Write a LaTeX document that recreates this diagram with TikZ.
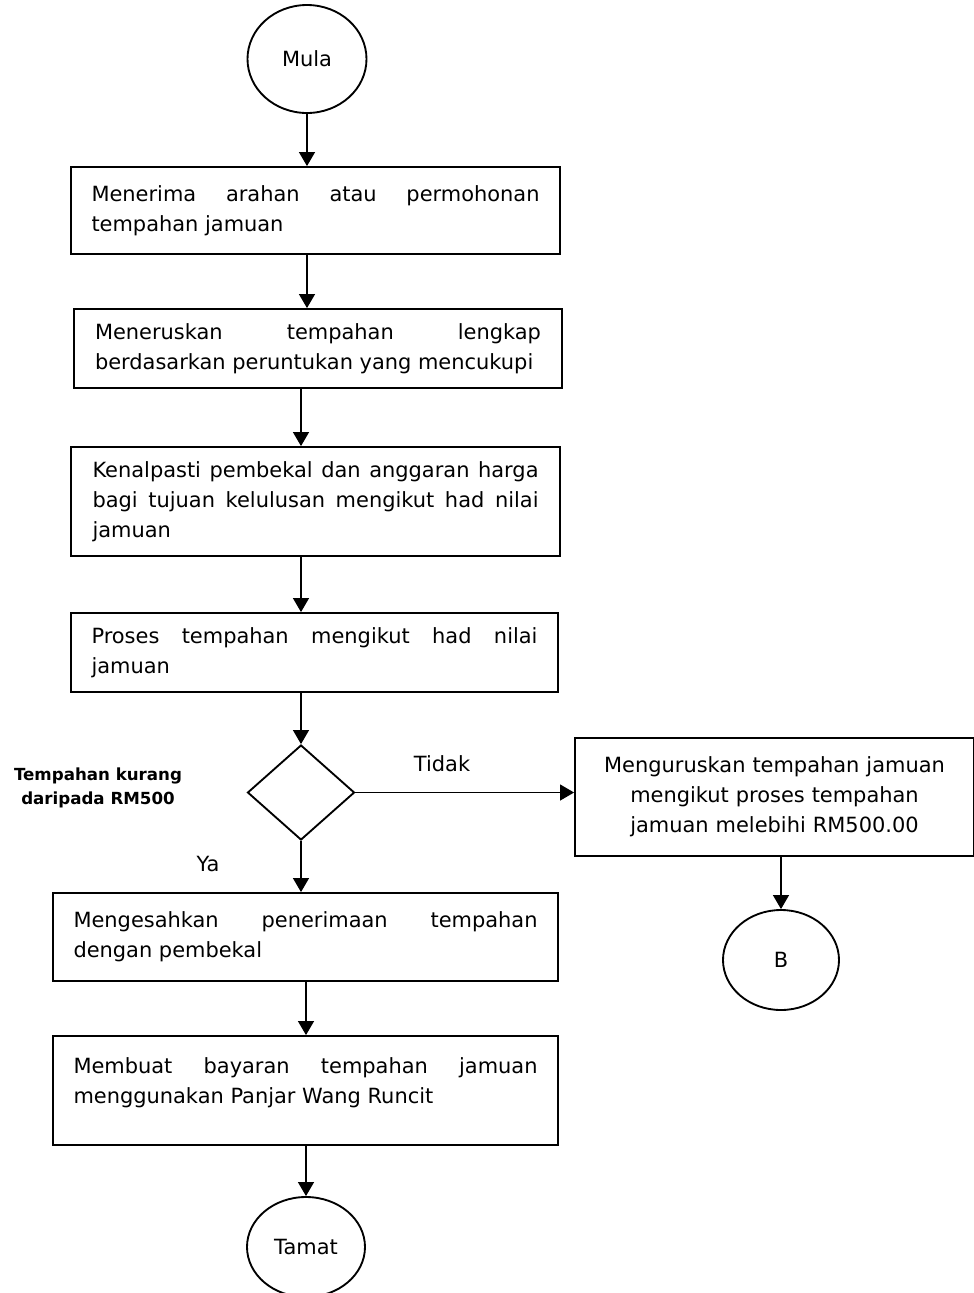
\documentclass[tikz,border=0pt]{standalone}
\usepackage{fontspec}
\setmainfont{DejaVu Sans}
\usetikzlibrary{shapes.geometric,arrows.meta}
\hyphenpenalty=10000
\exhyphenpenalty=10000
\tolerance=10000
\begin{document}
\begin{tikzpicture}[x=0.75pt,y=-0.75pt,
  font=\fontsize{15.7pt}{22.5pt}\selectfont,
  box/.style={draw,line width=1.4pt,rectangle,inner sep=0pt,align=justify},
  term/.style={draw,line width=1.4pt,ellipse,inner sep=0pt},
  arr/.style={line width=0.9pt,-{Triangle[length=10.5pt,width=12pt]}},
  lbl/.style={inner sep=0pt}]
\useasboundingbox (0,0) rectangle (974,1293);
\node[term,minimum width=119*0.75pt,minimum height=108*0.75pt] (m) at (307,59) {Mula};
\node[box,minimum width=489*0.75pt,minimum height=87*0.75pt,text width=448*0.75pt] (b1) at (315.5,210.5)
  {Menerima arahan atau permohonan tempahan jamuan};
\node[box,minimum width=488*0.75pt,minimum height=79*0.75pt,text width=446*0.75pt] (b2) at (318,348.5)
  {Meneruskan tempahan lengkap berdasarkan peruntukan yang mencukupi};
\node[box,minimum width=489*0.75pt,minimum height=109*0.75pt,text width=446*0.75pt] (b3) at (315.5,501.5)
  {Kenalpasti pembekal dan anggaran harga bagi tujuan kelulusan mengikut had nilai jamuan};
\node[box,minimum width=487*0.75pt,minimum height=79*0.75pt,text width=446*0.75pt] (b4) at (314.5,652.5)
  {Proses tempahan mengikut had nilai jamuan};
\node[draw,line width=1.4pt,diamond,inner sep=0pt,minimum width=107*0.75pt,minimum height=95*0.75pt] (d) at (301,792.5) {};
\node[box,minimum width=399*0.75pt,minimum height=118*0.75pt,text width=380*0.75pt,align=center] (r) at (774.5,797)
  {Menguruskan tempahan jamuan\\mengikut proses tempahan\\jamuan melebihi RM500.00};
\node[term,minimum width=116*0.75pt,minimum height=100*0.75pt] (b) at (781,960) {B};
\node[box,minimum width=505*0.75pt,minimum height=88*0.75pt,text width=464*0.75pt] (b5) at (305.5,937)
  {Mengesahkan penerimaan tempahan dengan pembekal};
\node[box,minimum width=505*0.75pt,minimum height=109*0.75pt,text width=464*0.75pt,text depth=50*0.75pt] (b6) at (305.5,1090.5)
  {Membuat bayaran tempahan jamuan menggunakan Panjar Wang Runcit};
\node[term,minimum width=118*0.75pt,minimum height=100*0.75pt] (t) at (306,1247) {Tamat};
\node[lbl,font=\fontsize{12.5pt}{18pt}\selectfont\bfseries,align=center] (q) at (98,788) {Tempahan kurang\\daripada RM500};
\node[lbl] (no) at (442,764) {Tidak};
\node[lbl] (yes) at (208,864) {Ya};
\draw[arr] (m.south) -- (m.south |- b1.north);
\draw[arr] (b1.south -| m) -- (m |- b2.north);
\draw[arr] (b2.south -| d) -- (d |- b3.north);
\draw[arr] (b3.south -| d) -- (d |- b4.north);
\draw[arr] (b4.south -| d) -- (d.north);
\draw[arr] (d.east) -- (d.east -| r.west);
\draw[arr] (r.south -| b) -- (b.north);
\draw[arr] (d.south) -- (d.south |- b5.north);
\draw[arr] (b5.south -| t) -- (t |- b6.north);
\draw[arr] (b6.south -| t) -- (t.north);
\end{tikzpicture}
\end{document}
